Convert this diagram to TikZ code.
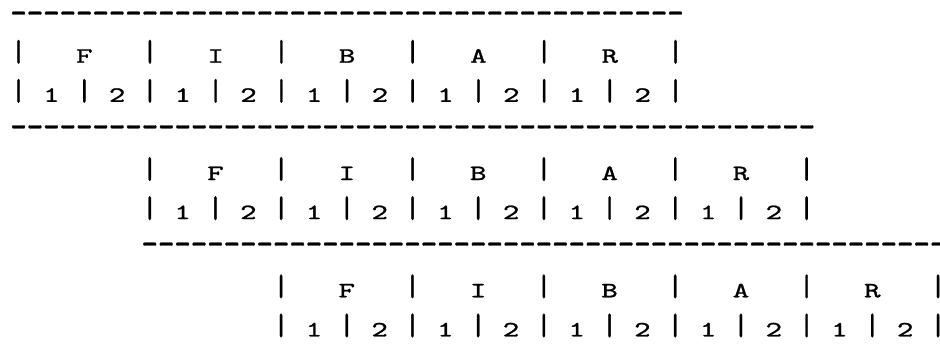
\documentclass[tikz,border=0pt]{standalone}
\usetikzlibrary{positioning}
\font\stagett="[lmmono10-regular]:embolden=1" at 10.9pt
\tikzset{every picture/.style={/utils/exec={\ttfamily}}}
\tikzset{
  asciiline/.style={anchor=base west, inner sep=0pt, font=\stagett, xscale=1.435, transform shape},
}
\newcommand{\stagebar}{\raisebox{0.8pt}{\scalebox{1}[1.4]{|}}}
\newcommand{\rulechar}{\raisebox{-2.4pt}{\scalebox{1}[1.8]{-}}}
\newcommand{\stagenames}{\stagebar~~~F~~~\stagebar~~~I~~~\stagebar~~~B~~~\stagebar~~~A~~~\stagebar~~~R~~~\stagebar}
\newcommand{\stagehalves}{\foreach \h in {1,...,5}{\stagebar~1~\stagebar~2~}\stagebar}
\newcommand{\dashrow}[1]{\foreach \d in {1,...,#1}{\rulechar}}

\begin{document}
\begin{tikzpicture}[x=0.5pt,y=-0.5pt]
  \useasboundingbox (0,0) rectangle (940,358);

  % first stage
  \node [asciiline] (top) at (9.8,20.3) {\dashrow{41}};
  \node [asciiline] (s1names) at (9.8,62.7) {\stagenames};
  \node [asciiline] (s1halves) at (9.8,101.8) {\stagehalves};
  \node [asciiline] (mid1) at (9.8,134.1) {\dashrow{49}};

  % second stage, shifted by 8 columns
  \node [asciiline] (s2names) at (141.0,180.0) {\stagenames};
  \node [asciiline] (s2halves) at (141.0,219.1) {\stagehalves};
  \node [asciiline] (mid2) at (141.0,251.3) {\dashrow{49}};

  % third stage
  \node [asciiline] (s3names) at (272.3,297.3) {\stagenames};
  \node [asciiline] (s3halves) at (272.3,336.4) {\stagehalves};
\end{tikzpicture}
\end{document}
